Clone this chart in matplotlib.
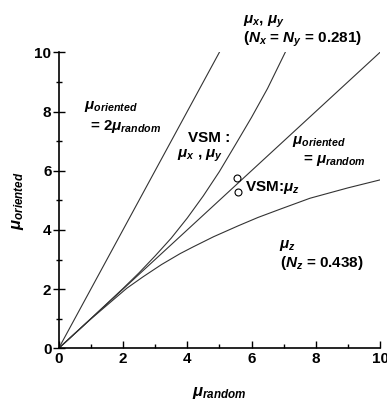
import numpy as np
import matplotlib
matplotlib.use('Agg')
import matplotlib.pyplot as plt
from matplotlib.ticker import MultipleLocator

plt.rcParams['font.family'] = ['Liberation Sans', 'DejaVu Sans']
plt.rcParams['font.weight'] = 'bold'
plt.rcParams['mathtext.fontset'] = 'custom'
plt.rcParams['mathtext.rm'] = 'Liberation Sans:bold'
plt.rcParams['mathtext.it'] = 'Liberation Sans:italic:bold'
plt.rcParams['mathtext.bf'] = 'Liberation Sans:bold'

# reference lines
double_x = [0, 5]
double_y = [0, 10]
equal_x = [0, 10]
equal_y = [0, 10]

# mu_x, mu_y curve (N = 0.281)
muxy_x = [0, 1, 2, 2.5, 3, 3.5, 4, 4.5, 5, 5.5, 6, 6.5, 7.05]
muxy_y = [0, 1.0, 2.02, 2.55, 3.12, 3.72, 4.4, 5.15, 5.97, 6.88, 7.8, 8.78, 10.0]

# mu_z curve (N = 0.438)
muz_x = [0, 1, 2.12, 2.63, 3.2, 3.78, 4.19, 4.82, 5.59, 6.2, 6.89, 7.82, 9, 10]
muz_y = [0, 0.99, 2.03, 2.42, 2.83, 3.2, 3.43, 3.77, 4.14, 4.42, 4.7, 5.07, 5.42, 5.69]

# VSM measurements
vsm_x = [5.55, 5.57]
vsm_y = [5.74, 5.29]


def main():
    fig = plt.figure(figsize=(3.87, 4.03), dpi=100)
    ax = fig.add_axes([0.1517, 0.1357, 0.8303, 0.7345])

    lc = '0.2'
    ax.plot(double_x, double_y, color=lc, lw=0.8)
    ax.plot(equal_x, equal_y, color=lc, lw=0.8)
    ax.plot(muxy_x, muxy_y, color=lc, lw=0.8)
    ax.plot(muz_x, muz_y, color=lc, lw=0.8)
    ax.plot(vsm_x, vsm_y, 'o', ms=5, mfc='white', mec='black', mew=0.8, ls='none')

    ax.set_xlim(0, 10)
    ax.set_ylim(0, 10)
    for s in ['top', 'right']:
        ax.spines[s].set_visible(False)
    for s in ['left', 'bottom']:
        ax.spines[s].set_linewidth(1.2)

    ax.xaxis.set_major_locator(MultipleLocator(2))
    ax.xaxis.set_minor_locator(MultipleLocator(1))
    ax.yaxis.set_major_locator(MultipleLocator(2))
    ax.yaxis.set_minor_locator(MultipleLocator(1))
    ax.tick_params(axis='y', which='major', direction='inout', length=8.5, width=1, labelsize=11, pad=1)
    ax.tick_params(axis='y', which='minor', direction='inout', length=4.5, width=1)
    ax.tick_params(axis='x', which='major', direction='in', length=5, width=1, labelsize=11, pad=3)
    ax.tick_params(axis='x', which='minor', direction='in', length=3, width=1)
    for lab in ax.get_xticklabels() + ax.get_yticklabels():
        lab.set_fontweight('bold')

    ax.set_xlabel(r'$\mu_{random}$', fontsize=12, labelpad=13)
    ax.set_ylabel(r'$\mu_{oriented}$', fontsize=12, labelpad=6)

    fs = 11
    ax.text(5.72, 11.3, r'$\mu_x$, $\mu_y$' + '\n' + r'($N_x$ = $N_y$ = 0.281)',
            fontsize=fs, va='top', ha='left', clip_on=False, linespacing=0.95)
    ax.text(0.78, 8.18, r'$\mu_{oriented}$', fontsize=fs, va='center')
    ax.text(0.97, 7.51, r'= 2$\mu_{random}$', fontsize=fs, va='center')
    ax.text(4.03, 7.12, 'VSM :', fontsize=fs, va='center')
    ax.text(3.69, 6.5, r'$\mu_x$ , $\mu_y$', fontsize=fs, va='center')
    ax.text(7.26, 6.97, r'$\mu_{oriented}$', fontsize=fs, va='center')
    ax.text(7.6, 6.36, r'= $\mu_{random}$', fontsize=fs, va='center')
    ax.text(5.8, 5.42, r'VSM:$\mu_z$', fontsize=fs, va='center')
    ax.text(6.86, 3.46, r'$\mu_z$', fontsize=fs, va='center')
    ax.text(6.9, 2.88, r'($N_z$ = 0.438)', fontsize=fs, va='center')

    fig.savefig('out.png', dpi=100)


if __name__ == '__main__':
    main()
